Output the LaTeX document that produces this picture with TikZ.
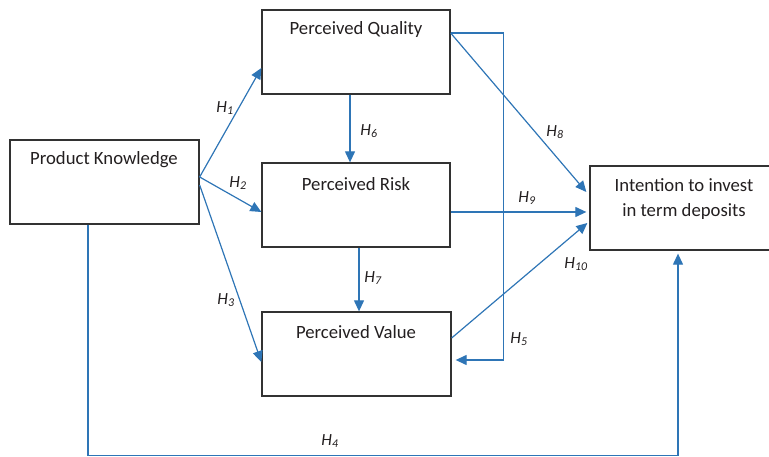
\documentclass[tikz,border=0pt]{standalone}
\usepackage{fontspec}
\setmainfont{Carlito}
\usetikzlibrary{arrows.meta}
\definecolor{lnblue}{RGB}{46,117,182}
\definecolor{boxgray}{RGB}{50,50,50}
\definecolor{txt}{RGB}{35,31,32}
\begin{document}
\begin{tikzpicture}[x=1pt,y=-1pt,
 box/.style={draw=boxgray,line width=1.3pt,fill=white,minimum height=84pt,inner sep=0pt},
 conn/.style={draw=lnblue,line width=1.2pt},
 arr/.style={conn,-{Triangle[length=11pt,width=10pt]}},
 boxtext/.style={font=\fontsize{18.7}{25.5}\selectfont,text=txt,align=center,inner sep=0pt},
 hyp/.style={font=\fontsize{17}{19}\selectfont\itshape,text=txt,inner sep=0pt}]
\useasboundingbox (0,0) rectangle (769,457);
% boxes
\node[box,minimum width=189pt] (pk) at (104.5,182) {};
\node[box,minimum width=188pt] (pq) at (356,52) {};
\node[box,minimum width=188pt] (pr) at (356,205) {};
\node[box,minimum width=189pt] (pv) at (356.5,354) {};
\node[box,minimum width=184pt] (it) at (682,208) {};
% box texts
\node[boxtext] (tpk) at (104,160) {Product Knowledge};
\node[boxtext] (tpq) at (356,30) {Perceived Quality};
\node[boxtext] (tpr) at (356,184) {Perceived Risk};
\node[boxtext] (tpv) at (356,332) {Perceived Value};
\node[boxtext] (tit) at (684,199) {Intention to invest\\in term deposits};
% connectors
\draw[arr] ([yshift=5pt]pk.east) -- ([yshift=-16pt]pq.west);
\draw[arr] ([yshift=5pt]pk.east) -- ([yshift=-7pt]pr.west);
\draw[arr] ([yshift=-3pt]pk.east) -- ([yshift=-8pt]pv.west);
\draw[arr] ([xshift=-6pt]pq.south) -- ([xshift=-6pt]pr.north);
\draw[arr] ([xshift=3pt]pr.south) -- ([xshift=2.5pt]pv.north);
\draw[arr] ([yshift=19pt]pq.east) -- ++(53,0) |- ([xshift=4pt,yshift=-6pt]pv.east);
\draw[arr] ([yshift=19pt]pq.east) -- ([xshift=-3pt,yshift=16pt]it.west);
\draw[arr] ([yshift=-7pt]pr.east) -- ([xshift=-3pt,yshift=-4pt]it.west);
\draw[arr] ([yshift=16pt]pv.east) -- ([xshift=-2pt,yshift=-15pt]it.west);
\draw[arr] ([xshift=-16.5pt]pk.south) -- ++(0,231) -| ([xshift=-4pt,yshift=-3pt]it.south);
% hypothesis labels
\node[hyp] (h1) at (225,108) {H\textsubscript{1}};
\node[hyp] (h2) at (238,183) {H\textsubscript{2}};
\node[hyp] (h3) at (226,300) {H\textsubscript{3}};
\node[hyp] (h4) at (330,441) {H\textsubscript{4}};
\node[hyp] (h5) at (519,339) {H\textsubscript{5}};
\node[hyp] (h6) at (369,131) {H\textsubscript{6}};
\node[hyp] (h7) at (373,278) {H\textsubscript{7}};
\node[hyp] (h8) at (555,132) {H\textsubscript{8}};
\node[hyp] (h9) at (527,198) {H\textsubscript{9}};
\node[hyp] (h10) at (576,264) {H\textsubscript{10}};
\end{tikzpicture}
\end{document}
